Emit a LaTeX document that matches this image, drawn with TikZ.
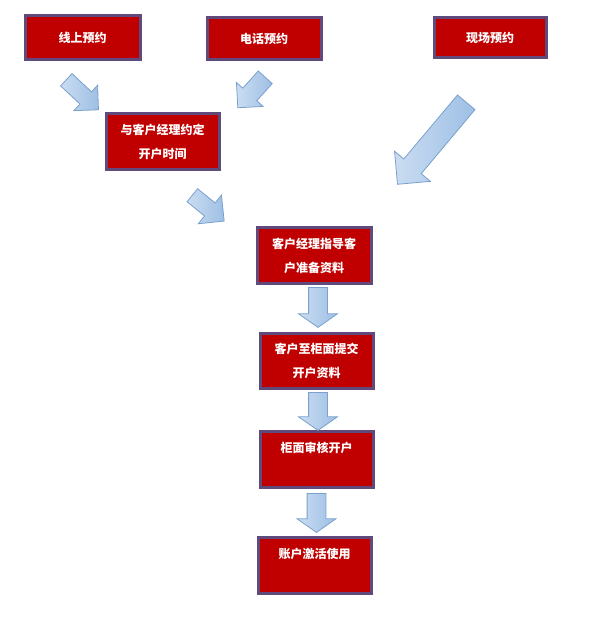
\documentclass[tikz,border=0pt]{standalone}
\usepackage{fontspec}
\setmainfont{Noto Sans CJK SC}
\usepackage{tikz}
\usetikzlibrary{shapes.arrows, positioning}
\definecolor{boxred}{RGB}{192,0,0}
\definecolor{boxedge}{RGB}{96,74,123}
\definecolor{arrlight}{RGB}{202,221,242}
\definecolor{arrdark}{RGB}{158,191,228}
\definecolor{arredge}{RGB}{122,160,205}
\tikzset{
  stepbox/.style={rectangle, draw=boxedge, fill=boxred, line width=3pt,
    text=white, font=\fontsize{12}{24}\selectfont\bfseries, align=center,
    inner sep=0pt, minimum width=113pt, minimum height=56pt},
  topbox/.style={stepbox, minimum height=42pt},
  bigarrow/.style={single arrow, draw=arredge, line width=0.8pt,
    left color=arrlight, right color=arrdark, inner xsep=0pt,
    single arrow tip angle=90, anchor=tail},
  downarrow/.style={bigarrow, rotate=-90, inner ysep=9pt,
    single arrow head extend=10pt, single arrow tip angle=110}
}

\begin{document}
\begin{tikzpicture}[x=1pt, y=-1pt]
  \useasboundingbox (0,0) rectangle (601,620);

  % Three ways to book
  \node[topbox, minimum width=115pt, minimum height=44pt] (online) at (82.5,38) {线上预约};
  \node[topbox, minimum width=114pt] (phone) at (264,39) {电话预约};
  \node[topbox, minimum width=112pt, minimum height=40pt] (onsite) at (490,38) {现场预约};

  % Steps
  \node[stepbox] (appoint) at (162.5,141.5) {与客户经理约定\\开户时间};
  \node[stepbox, minimum width=114pt] (prepare) at (314,255.5) {客户经理指导客\\户准备资料};
  \node[stepbox, minimum height=55pt] (submit) at (316.5,360.5) {客户至柜面提交\\开户资料};
  \node[stepbox] (review) at (316.5,459.5) {柜面审核开户\\ \mbox{}};
  \node[stepbox] (activate) at (314.5,565) {账户激活使用\\ \mbox{}};

  % Block arrows (placed by their tail)
  \node[bigarrow, rotate=-43, minimum height=44pt, inner ysep=8pt,
    single arrow head extend=9pt] (arrA) at (66,79.5) {};
  \node[bigarrow, rotate=228, minimum height=41pt, inner ysep=9pt,
    single arrow head extend=8.5pt] (arrB) at (265.5,77) {};
  \node[bigarrow, rotate=230, minimum height=107pt, inner ysep=11pt,
    single arrow head extend=12pt] (arrC) at (466.5,102) {};
  \node[bigarrow, rotate=-39, minimum height=41pt, inner ysep=8pt,
    single arrow head extend=10pt] (arrD) at (192,195) {};
  \node[downarrow, minimum height=40pt] (arrE) at (318,287) {};
  \node[downarrow, minimum height=38pt] (arrF) at (318,392) {};
  \node[downarrow, minimum height=39pt] (arrG) at (316.5,493) {};
\end{tikzpicture}
\end{document}
